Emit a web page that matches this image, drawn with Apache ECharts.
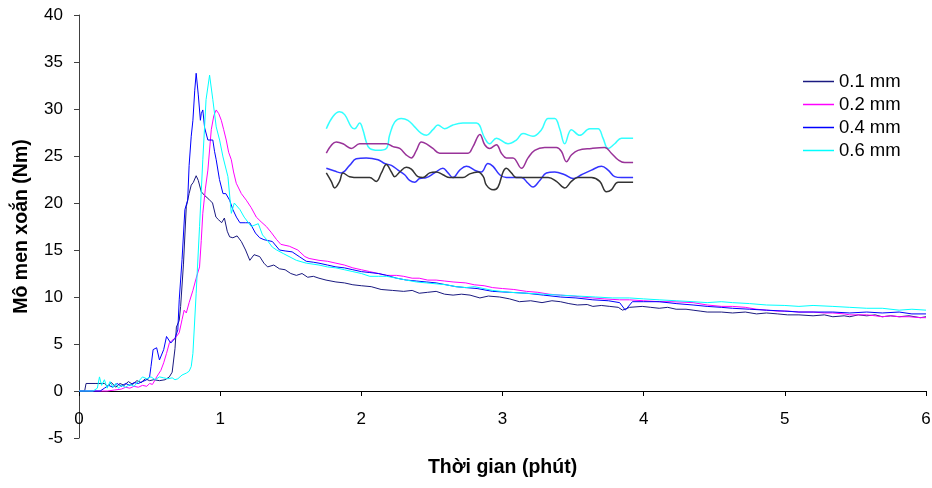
<!DOCTYPE html>
<html>
<head>
<meta charset="utf-8">
<script src="https://cdn.jsdelivr.net/npm/echarts@6/dist/echarts.min.js"></script>
<style>
html,body{margin:0;padding:0;background:#fff;}
#chart{width:932px;height:488px;}
</style>
</head>
<body>
<div id="chart"></div>
<script>
// ---- Data (x = minutes, y = Nm) ----
const seriesNames = ['0.1 mm', '0.2 mm', '0.4 mm', '0.6 mm'];
const xTicks = [0, 1, 2, 3, 4, 5, 6];
const yTicks = [-5, 0, 5, 10, 15, 20, 25, 30, 35, 40];

const data01 = [[0,0],[0.04,0],[0.05,0.8],[0.12,0.8],[0.18,0.8],[0.2,0.5],[0.23,0.9],[0.26,0.4],[0.29,0.8],[0.32,0.6],[0.35,1.0],[0.38,0.7],[0.41,1.1],[0.44,0.9],[0.47,1.3],[0.5,1.1],[0.53,1.2],[0.57,1.1],[0.61,1.2],[0.64,1.5],[0.66,2.0],[0.68,4.5],[0.69,6.8],[0.71,7.5],[0.72,9.0],[0.74,13.5],[0.76,19.6],[0.78,21.0],[0.795,21.9],[0.81,22.2],[0.83,22.9],[0.845,22.4],[0.866,21.2],[0.89,20.8],[0.92,20.4],[0.946,20.0],[0.97,18.5],[0.99,18.2],[1.01,17.9],[1.03,18.4],[1.05,17.0],[1.067,16.4],[1.09,16.3],[1.12,16.5],[1.15,15.9],[1.18,15.0],[1.21,13.9],[1.24,14.5],[1.28,14.3],[1.31,13.6],[1.336,13.2],[1.38,13.4],[1.42,13.0],[1.46,12.9],[1.5,12.5],[1.54,12.3],[1.58,12.5],[1.62,12.1],[1.66,12.2],[1.70,12.0],[1.75,11.8],[1.82,11.6],[1.88,11.5],[1.94,11.3],[2.0,11.2],[2.07,11.1],[2.14,10.8],[2.22,10.7],[2.3,10.6],[2.36,10.7],[2.41,10.4],[2.47,10.5],[2.53,10.6],[2.59,10.3],[2.65,10.2],[2.71,10.3],[2.77,10.2],[2.84,9.9],[2.9,10.1],[2.98,10.0],[3.05,9.8],[3.12,9.5],[3.2,9.6],[3.28,9.4],[3.35,9.6],[3.41,9.5],[3.47,9.3],[3.53,9.15],[3.6,9.2],[3.64,9.0],[3.7,9.1],[3.76,9.0],[3.82,8.9],[3.85,8.6],[3.9,8.9],[3.99,9.0],[4.05,8.9],[4.11,8.8],[4.17,8.9],[4.23,8.7],[4.3,8.7],[4.35,8.6],[4.4,8.5],[4.45,8.4],[4.55,8.4],[4.63,8.3],[4.72,8.4],[4.8,8.2],[4.87,8.3],[4.95,8.2],[5.02,8.1],[5.1,8.1],[5.2,8.0],[5.28,8.1],[5.34,7.9],[5.42,8.0],[5.46,7.9],[5.52,8.1],[5.58,8.0],[5.64,8.1],[5.69,7.9],[5.75,8.0],[5.81,7.9],[5.88,8.0],[5.96,7.8],[6.0,7.9]];

const data02 = [[0,0],[0.1,0],[0.2,0],[0.25,0.1],[0.3,0.2],[0.33,0.4],[0.36,0.3],[0.39,0.5],[0.42,0.4],[0.45,0.6],[0.48,0.5],[0.5,0.8],[0.52,0.7],[0.54,1.2],[0.55,1.5],[0.58,2.2],[0.6,3.0],[0.62,4.0],[0.64,5.1],[0.66,5.4],[0.68,5.6],[0.71,6.2],[0.73,7.6],[0.745,8.6],[0.76,8.3],[0.78,9.4],[0.807,10.7],[0.83,12.0],[0.854,13.2],[0.866,16],[0.877,18.9],[0.895,21.5],[0.913,23.5],[0.937,27.8],[0.955,29.3],[0.972,29.9],[0.99,29.5],[1.008,28.8],[1.025,27.8],[1.043,26.7],[1.06,25.4],[1.079,24.6],[1.095,23.3],[1.114,22.1],[1.15,21.0],[1.185,20.3],[1.22,19.5],[1.256,18.5],[1.29,18.0],[1.327,17.5],[1.36,16.9],[1.4,16.1],[1.43,15.6],[1.49,15.4],[1.55,15.0],[1.6,14.3],[1.63,14.1],[1.70,13.9],[1.76,13.8],[1.82,13.6],[1.88,13.4],[1.94,13.1],[2.0,12.9],[2.06,12.7],[2.12,12.5],[2.18,12.3],[2.25,12.3],[2.3,12.2],[2.36,12.0],[2.41,12.0],[2.47,11.8],[2.53,11.8],[2.59,11.7],[2.65,11.6],[2.74,11.5],[2.8,11.3],[2.87,11.2],[2.93,11.0],[3.0,10.9],[3.08,10.8],[3.17,10.6],[3.25,10.5],[3.33,10.3],[3.41,10.2],[3.5,10.1],[3.56,10.0],[3.64,9.9],[3.72,9.8],[3.83,9.7],[3.9,9.7],[4.0,9.6],[4.11,9.5],[4.2,9.5],[4.35,9.4],[4.45,9.15],[4.55,9.0],[4.63,9.0],[4.72,8.9],[4.8,8.7],[4.87,8.6],[4.95,8.5],[5.02,8.5],[5.1,8.4],[5.2,8.4],[5.28,8.3],[5.34,8.3],[5.42,8.2],[5.46,8.1],[5.52,8.1],[5.58,8.1],[5.64,8.0],[5.69,7.9],[5.75,8.0],[5.81,7.9],[5.88,7.9],[5.96,7.8],[6.0,7.8]];

const data04 = [[0,0],[0.1,0],[0.15,0],[0.18,0.3],[0.21,0.6],[0.24,0.4],[0.27,0.8],[0.3,0.5],[0.33,0.8],[0.36,0.6],[0.39,0.9],[0.42,0.8],[0.45,1.0],[0.48,1.2],[0.5,1.5],[0.51,2.6],[0.525,4.4],[0.55,4.6],[0.57,3.3],[0.6,4.4],[0.62,5.8],[0.63,6.0],[0.65,5.1],[0.68,5.6],[0.70,6.5],[0.71,9.7],[0.73,14.0],[0.75,19.3],[0.77,20.3],[0.78,24.0],[0.795,27.1],[0.807,28.8],[0.82,32.0],[0.83,33.8],[0.845,31.5],[0.86,28.8],[0.866,29.5],[0.877,29.9],[0.89,28.0],[0.913,26.7],[0.948,26.7],[0.96,25.5],[0.972,24.6],[0.995,22.5],[1.02,21.0],[1.04,21.0],[1.067,20.3],[1.09,19.3],[1.115,18.5],[1.14,17.9],[1.18,17.9],[1.21,17.9],[1.25,16.8],[1.28,16.3],[1.31,16.1],[1.37,15.9],[1.42,15.0],[1.46,14.9],[1.51,14.8],[1.56,14.3],[1.61,13.8],[1.66,13.7],[1.70,13.6],[1.76,13.4],[1.82,13.2],[1.88,13.1],[1.94,12.9],[2.0,12.7],[2.06,12.6],[2.12,12.5],[2.18,12.3],[2.25,12.0],[2.32,11.8],[2.39,11.7],[2.46,11.6],[2.53,11.5],[2.6,11.3],[2.67,11.1],[2.74,11.0],[2.82,10.9],[2.93,10.6],[3.05,10.5],[3.17,10.4],[3.29,10.2],[3.41,10.0],[3.52,9.9],[3.64,9.7],[3.75,9.6],[3.83,9.4],[3.87,8.6],[3.92,9.5],[4.0,9.5],[4.11,9.5],[4.23,9.3],[4.35,9.15],[4.45,9.0],[4.55,8.9],[4.63,8.8],[4.75,8.7],[4.87,8.6],[5.0,8.5],[5.1,8.4],[5.2,8.4],[5.34,8.4],[5.46,8.3],[5.58,8.4],[5.69,8.3],[5.81,8.4],[5.9,8.2],[6.0,8.2]];

const data06 = [[0,0],[0.1,0],[0.13,0.3],[0.145,1.5],[0.16,0.6],[0.18,1.2],[0.2,0.3],[0.22,1.0],[0.24,0.4],[0.26,0.8],[0.28,0.3],[0.3,0.6],[0.33,0.4],[0.36,0.7],[0.39,0.5],[0.42,1.0],[0.45,1.5],[0.48,1.3],[0.51,1.5],[0.54,1.2],[0.57,1.5],[0.6,1.4],[0.63,1.3],[0.66,1.4],[0.68,1.2],[0.7,1.3],[0.73,1.7],[0.76,1.9],[0.78,2.1],[0.795,2.6],[0.807,4.0],[0.83,10.4],[0.854,17.5],[0.877,24.6],[0.90,31.0],[0.925,33.6],[0.948,31.0],[0.972,28.1],[0.996,26.7],[1.02,24.9],[1.055,22.8],[1.079,18.9],[1.10,20.0],[1.14,19.3],[1.17,18.5],[1.22,17.5],[1.27,17.8],[1.30,16.6],[1.33,16.1],[1.37,15.3],[1.40,15.0],[1.45,14.6],[1.54,13.9],[1.61,13.6],[1.70,13.4],[1.76,13.2],[1.82,13.1],[1.88,12.9],[1.94,12.7],[2.0,12.5],[2.06,12.2],[2.12,12.2],[2.18,12.2],[2.25,12.0],[2.32,11.8],[2.39,11.6],[2.46,11.5],[2.53,11.4],[2.60,11.3],[2.67,11.1],[2.74,11.0],[2.8,11.1],[2.93,10.7],[3.05,10.5],[3.17,10.4],[3.29,10.3],[3.41,10.2],[3.53,10.1],[3.66,10.0],[3.78,9.9],[3.9,9.9],[4.0,9.8],[4.11,9.7],[4.23,9.6],[4.35,9.5],[4.45,9.4],[4.55,9.5],[4.63,9.4],[4.75,9.3],[4.87,9.15],[5.0,9.1],[5.1,9.0],[5.2,9.1],[5.34,9.0],[5.46,8.9],[5.58,8.8],[5.69,8.8],[5.81,8.6],[5.9,8.7],[6.0,8.6]];

// inset detail traces (drawn on the same axes)
const insetCyan = [[1.752,27.9],[1.799,29.2],[1.846,29.7],[1.882,29.4],[1.929,28.1],[1.953,27.9],[1.988,28.5],[2.011,27.8],[2.035,26.5],[2.059,25.8],[2.118,25.6],[2.177,25.8],[2.2,27.2],[2.236,28.6],[2.283,29.0],[2.33,28.8],[2.378,28.1],[2.425,27.4],[2.461,27.2],[2.507,27.8],[2.543,28.3],[2.59,27.9],[2.649,28.3],[2.72,28.5],[2.815,28.5],[2.874,26.9],[2.909,26.3],[2.957,26.9],[3.039,26.3],[3.098,26.7],[3.145,27.4],[3.216,27.1],[3.276,27.8],[3.323,29.0],[3.37,29.0],[3.405,27.9],[3.441,26.3],[3.488,27.8],[3.547,27.2],[3.618,27.9],[3.677,27.9],[3.712,26.9],[3.748,25.8],[3.795,26.3],[3.843,26.9],[3.925,26.9]];
const insetPurple = [[1.752,25.3],[1.823,26.5],[1.87,26.3],[1.929,25.8],[1.988,26.3],[2.059,26.3],[2.177,26.3],[2.224,26.0],[2.272,25.8],[2.319,25.1],[2.354,24.8],[2.39,25.6],[2.425,26.5],[2.461,26.3],[2.507,25.8],[2.555,25.3],[2.649,25.3],[2.756,25.3],[2.791,26.0],[2.84,27.3],[2.874,26.2],[2.909,25.8],[2.957,26.2],[2.992,25.3],[3.027,24.8],[3.074,24.8],[3.134,23.7],[3.181,24.8],[3.228,25.6],[3.299,25.9],[3.382,25.9],[3.417,25.5],[3.453,24.4],[3.488,25.1],[3.535,25.6],[3.63,25.8],[3.724,25.9],[3.771,25.3],[3.819,24.6],[3.866,24.3],[3.925,24.3]];
const insetBlue = [[1.752,23.7],[1.811,23.4],[1.858,23.2],[1.917,24.0],[1.964,24.7],[2.035,24.8],[2.118,24.6],[2.165,24.2],[2.213,24.0],[2.26,23.5],[2.307,23.0],[2.342,22.4],[2.378,22.2],[2.413,22.6],[2.461,22.7],[2.519,23.2],[2.578,23.7],[2.614,23.2],[2.649,22.7],[2.697,23.5],[2.744,23.9],[2.815,23.4],[2.85,23.3],[2.897,24.2],[2.933,23.9],[2.98,23.0],[3.027,22.7],[3.134,22.7],[3.181,22.1],[3.216,21.7],[3.264,22.4],[3.311,23.2],[3.37,23.3],[3.441,23.0],[3.5,22.6],[3.559,23.0],[3.63,23.5],[3.701,23.9],[3.748,23.5],[3.795,22.8],[3.843,22.7],[3.925,22.7]];
const insetBlack = [[1.752,23.2],[1.787,22.3],[1.811,21.6],[1.846,22.3],[1.87,23.2],[1.917,22.8],[1.988,22.7],[2.059,22.7],[2.106,22.3],[2.142,23.2],[2.177,24.1],[2.213,23.3],[2.236,22.8],[2.272,23.3],[2.319,23.8],[2.354,23.6],[2.401,22.8],[2.436,22.7],[2.484,23.2],[2.531,23.3],[2.578,23.0],[2.626,22.7],[2.72,22.7],[2.768,23.1],[2.827,23.3],[2.864,22.8],[2.886,21.9],[2.933,21.4],[2.968,21.7],[3.004,23.3],[3.027,23.7],[3.063,23.2],[3.098,22.7],[3.157,22.7],[3.323,22.7],[3.382,22.3],[3.441,21.6],[3.488,22.3],[3.535,22.7],[3.63,22.7],[3.689,22.3],[3.736,21.2],[3.771,21.4],[3.819,22.2],[3.925,22.2]];

const mainColors = ['#1a1a80', '#FF00FF', '#0000FF', '#00FFFF'];
const mainData = [data01, data02, data04, data06];

const FONT = 'Liberation Sans, Arial, sans-serif';

const series = mainData.map((d, i) => ({
  name: seriesNames[i],
  type: 'line',
  data: d,
  symbol: 'none',
  lineStyle: { color: mainColors[i], width: 1 },
  itemStyle: { color: mainColors[i] },
  z: 2 + i
}));

const insetDefs = [
  [insetCyan, '#33FFFF'],
  [insetPurple, '#993399'],
  [insetBlue, '#3333FF'],
  [insetBlack, '#333333']
];
insetDefs.forEach(([d, c]) => {
  series.push({
    name: '_inset',
    type: 'line',
    data: d,
    symbol: 'none',
    smooth: 0.4,
    lineStyle: { color: c, width: 1.5 },
    itemStyle: { color: c },
    z: 10
  });
});

const chart = echarts.init(document.getElementById('chart'));
chart.setOption({
  animation: false,
  backgroundColor: '#fff',
  textStyle: { fontFamily: FONT },
  legend: {
    data: seriesNames,
    orient: 'vertical',
    left: 798,
    top: 67,
    icon: 'rect',
    itemWidth: 31,
    itemHeight: 1.5,
    itemGap: 4,
    textStyle: { fontSize: 18.5, color: '#000', fontFamily: FONT, lineHeight: 19 }
  },
  grid: { left: 79, right: 6, top: 15, bottom: 50, containLabel: false, outerBoundsMode: 'none' },
  xAxis: {
    type: 'value',
    min: 0, max: 6, interval: 1,
    name: 'Thời gian (phút)',
    nameLocation: 'middle',
    nameGap: 20,
    nameTextStyle: { fontSize: 19.5, fontWeight: 'bold', color: '#000', fontFamily: FONT },
    axisLine: { onZero: true, lineStyle: { color: '#000', width: 1 } },
    axisTick: { show: true, length: 5, lineStyle: { color: '#000' } },
    axisLabel: { margin: -27, fontSize: 17, color: '#000', fontFamily: FONT,
      formatter: v => xTicks.includes(v) ? String(v) : '' },
    splitLine: { show: false }
  },
  yAxis: {
    type: 'value',
    min: -5, max: 40, interval: 5,
    name: 'Mô men xoắn (Nm)',
    nameLocation: 'middle',
    nameGap: 47,
    nameTextStyle: { fontSize: 19.5, fontWeight: 'bold', color: '#000', fontFamily: FONT },
    axisLine: { show: true, lineStyle: { color: '#404040', width: 1 } },
    axisTick: { show: true, length: 5, lineStyle: { color: '#404040' } },
    axisLabel: { margin: 16, fontSize: 17, color: '#000', fontFamily: FONT,
      formatter: v => yTicks.includes(v) ? String(v) : '' },
    splitLine: { show: false }
  },
  series: series
});
</script>
</body>
</html>
